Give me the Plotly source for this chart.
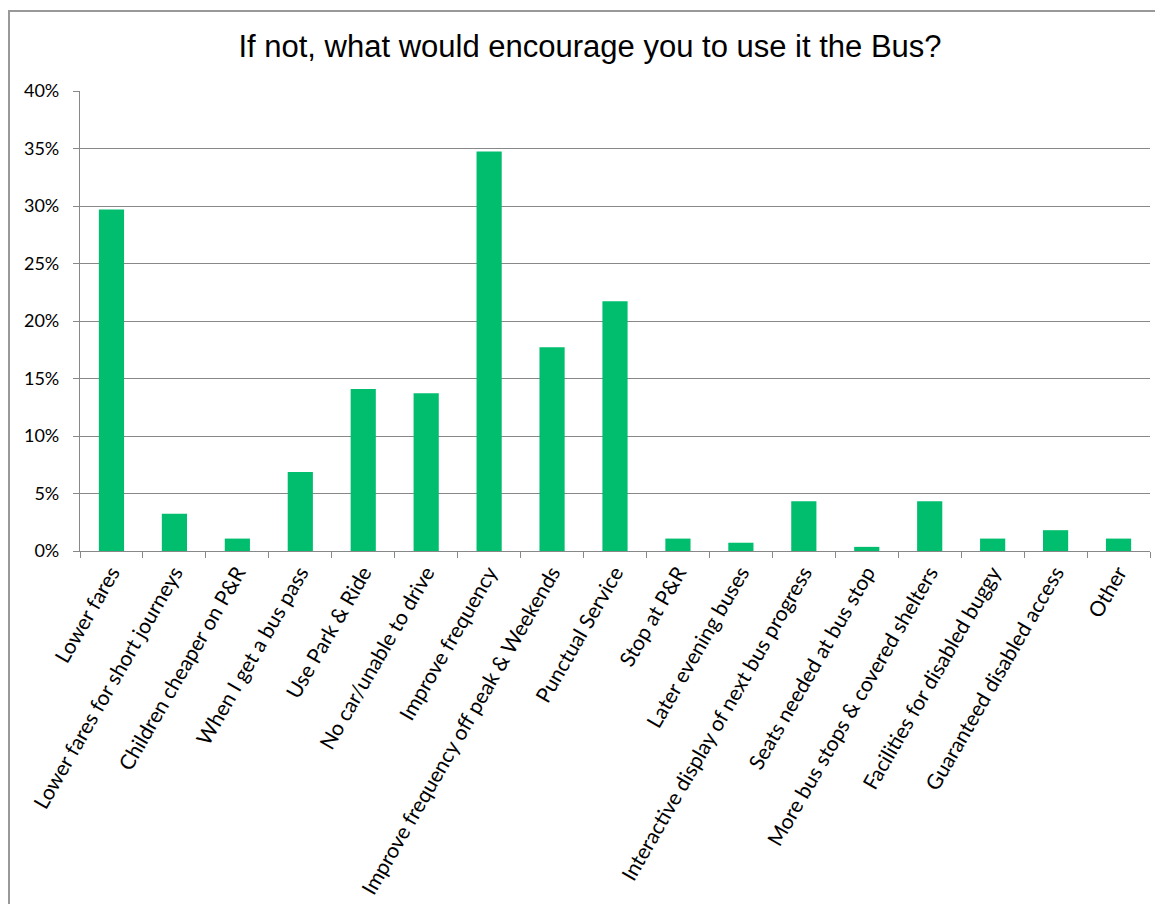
import plotly.graph_objects as go

categories = [
    "Lower fares",
    "Lower fares for short journeys",
    "Children cheaper on P&R",
    "When I get a bus pass",
    "Use Park & Ride",
    "No car/unable to drive",
    "Improve frequency",
    "Improve frequency off peak & Weekends",
    "Punctual Service",
    "Stop at P&R",
    "Later evening buses",
    "Interactive display of next bus progress",
    "Seats needed at bus stop",
    "More bus stops & covered shelters",
    "Facilities for disabled buggy",
    "Guaranteed disabled access",
    "Other",
]
values = [0.2970, 0.0325, 0.0108, 0.0686, 0.1408, 0.1372, 0.3475, 0.1771,
          0.2171, 0.0108, 0.0072, 0.0433, 0.0036, 0.0433, 0.0108, 0.0181, 0.0108]
y_ticks = [0, 0.05, 0.10, 0.15, 0.20, 0.25, 0.30, 0.35, 0.40]

OFF = 8  # page body margin
W, H = 1163 - OFF, 904 - OFF
L, R, T, B = 80 - OFF, 1150 - OFF, 91 - OFF, 551 - OFF

def px_x(p):
    return (p - L) / (R - L)

def px_y(p):
    return (B - p) / (B - T)

fig = go.Figure(go.Bar(
    x=categories, y=values,
    marker=dict(color="#00BE6E", line=dict(width=0)),
    hoverinfo="x+y",
))

grid = "#888888"
lab_font = "Lato, Calibri, sans-serif"
fig.update_layout(
    width=W, height=H,
    margin=dict(l=L, r=W - R, t=T, b=H - B, autoexpand=False),
    paper_bgcolor="white", plot_bgcolor="white",
    bargap=0.6,
    showlegend=False,
    title=dict(
        text="If not, what would encourage you to use it the Bus?",
        font=dict(family="Liberation Sans, Arial", size=31, color="black"),
        x=px_x(590 - OFF), xref="paper", xanchor="center",
        y=1 - (46 - OFF) / H, yref="container", yanchor="middle",
    ),
    font=dict(family=lab_font, size=17, color="black"),
    xaxis=dict(
        tickangle=-60,
        tickson="boundaries",
        ticks="outside", ticklen=6, tickcolor=grid, tickwidth=1,
        showline=True, linecolor=grid, linewidth=1.2,
        showgrid=False,
        tickfont=dict(family=lab_font, size=21, color="black"),
        automargin=False,
    ),
    yaxis=dict(
        range=[0, 0.40],
        tickvals=y_ticks,
        tickformat=".0%",
        ticks="outside", ticklen=6, tickcolor=grid, tickwidth=1,
        showline=True, linecolor=grid, linewidth=1.2,
        showgrid=True, gridcolor=grid, gridwidth=1.2,
        zeroline=False,
        ticklabelstandoff=10,
        tickfont=dict(family=lab_font, size=18, color="black"),
        automargin=False,
    ),
)

# chart area border
fig.add_shape(
    type="rect", xref="paper", yref="paper",
    x0=px_x(1), x1=px_x(1180), y0=px_y(920), y1=px_y(11 - OFF),
    line=dict(color="#999999", width=2), fillcolor="rgba(0,0,0,0)", layer="below",
)

fig.write_html("out.html")
